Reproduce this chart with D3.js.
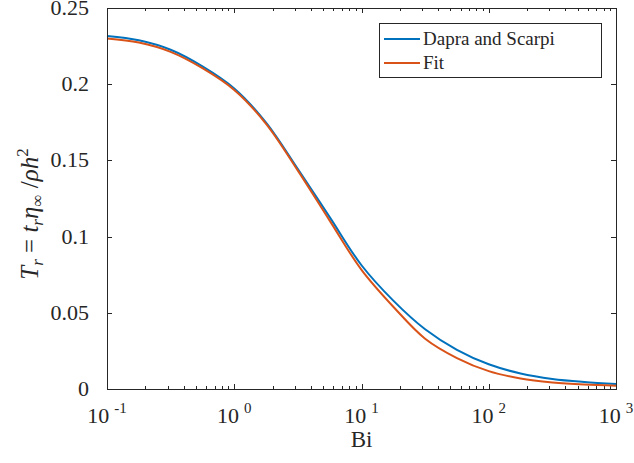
<!DOCTYPE html>
<html>
<head>
<meta charset="utf-8">
<script src="https://cdn.jsdelivr.net/npm/d3@7"></script>
<style>
  body { margin: 0; background: #fff; }
  svg text, svg tspan { font-family: "Liberation Serif", "Times New Roman", Tinos, serif; }
</style>
</head>
<body>
<script>
// values (Bi on log axis)
const bi = [0.1, 0.1778, 0.3162, 0.5623, 1, 1.778, 3.162, 5.623, 10, 17.78, 31.62, 56.23, 100, 177.8, 316.2, 562.3, 1000];
const dapra = [0.2316, 0.2288, 0.2226, 0.2117, 0.1972, 0.1748, 0.1443, 0.1128, 0.0812, 0.0580, 0.0392, 0.0257, 0.0162, 0.0102, 0.0066, 0.0046, 0.0033];
const fit = [0.2300, 0.2273, 0.2212, 0.2105, 0.1962, 0.1740, 0.1433, 0.1105, 0.0782, 0.0540, 0.0330, 0.0203, 0.0117, 0.0069, 0.0043, 0.0029, 0.0022];
const seriesNames = ["Dapra and Scarpi", "Fit"];
const yTicks = [0, 0.05, 0.1, 0.15, 0.2, 0.25];
const xTicks = [0.1, 1, 10, 100, 1000];

const width = 634,
    height = 463,
    colors = ["#0072BD", "#D95319"],
    margin = {top: 8, right: 18, bottom: 74, left: 107};

const svg = d3.select("body").append("svg")
    .attr("width", width)
    .attr("height", height);

// every text gets the serif font set on itself
function addText(parent, size) {
    return parent.append("text")
        .style("font-family", "'Liberation Serif', 'Times New Roman', Tinos, serif")
        .style("font-size", size + "px")
        .attr("fill", "#262626");
}

const x = d3.scaleLog()
    .domain([0.1, 1000])
    .range([margin.left, width - margin.right]);

const y = d3.scaleLinear()
    .domain([0, 0.25])
    .range([height - margin.bottom, margin.top]);

const x0 = x.range()[0], x1 = x.range()[1];
const y0 = y.range()[0], y1 = y.range()[1];

// minor ticks for the log axis
let minor = [];
for (let e = -1; e < 3; e++) {
    for (let k = 2; k <= 9; k++) minor.push(k * Math.pow(10, e));
}

const tickG = svg.append("g").attr("stroke", "#262626").attr("stroke-width", 1);

// x ticks, bottom and top, pointing in
xTicks.forEach(function(t) {
    let px = Math.round(x(t)) + 0.5;
    tickG.append("line").attr("x1", px).attr("x2", px).attr("y1", y0).attr("y2", y0 - 5);
    tickG.append("line").attr("x1", px).attr("x2", px).attr("y1", y1).attr("y2", y1 + 5);
});
minor.forEach(function(t) {
    let px = Math.round(x(t)) + 0.5;
    tickG.append("line").attr("x1", px).attr("x2", px).attr("y1", y0).attr("y2", y0 - 3);
    tickG.append("line").attr("x1", px).attr("x2", px).attr("y1", y1).attr("y2", y1 + 3);
});

// y ticks, left and right
yTicks.forEach(function(t) {
    let py = Math.round(y(t)) + 0.5;
    tickG.append("line").attr("x1", x0).attr("x2", x0 + 5).attr("y1", py).attr("y2", py);
    tickG.append("line").attr("x1", x1).attr("x2", x1 - 5).attr("y1", py).attr("y2", py);
});

// curves
const line = d3.line()
    .x(function(d) { return x(d[0]); })
    .y(function(d) { return y(d[1]); })
    .curve(d3.curveCatmullRom.alpha(0.5));

[dapra, fit].forEach(function(vals, i) {
    svg.append("path")
        .datum(bi.map(function(b, j) { return [b, vals[j]]; }))
        .attr("fill", "none")
        .attr("stroke", colors[i])
        .attr("stroke-width", 2)
        .attr("d", line);
});

// box
svg.append("rect")
    .attr("x", x0 + 0.5).attr("y", y1 + 0.5)
    .attr("width", x1 - x0).attr("height", y0 - y1)
    .attr("fill", "none")
    .attr("stroke", "#262626");

// y tick labels
yTicks.forEach(function(t) {
    addText(svg, 22)
        .attr("x", x0 - 18)
        .attr("y", y(t) + 7)
        .attr("text-anchor", "end")
        .text(d3.format("")(t));
});

// x tick labels 10^n
xTicks.forEach(function(t) {
    let e = Math.round(Math.log10(t));
    let txt = addText(svg, 22)
        .attr("x", x(t))
        .attr("y", y0 + 34)
        .attr("text-anchor", "middle");
    txt.append("tspan").text("10");
    txt.append("tspan").attr("dx", 5).attr("dy", -10).style("font-size", "15px").text(e);
});

// axis titles
addText(svg, 23)
    .attr("x", x(10))
    .attr("y", 447)
    .attr("text-anchor", "middle")
    .text("Bi");

const yl = addText(svg, 25)
    .attr("transform", "translate(38,214) rotate(-90)")
    .attr("text-anchor", "middle");
yl.append("tspan").style("font-style", "italic").text("T");
yl.append("tspan").attr("dy", 5).style("font-style", "italic").style("font-size", "17px").text("r");
yl.append("tspan").attr("dy", -5).text(" = ");
yl.append("tspan").style("font-style", "italic").text("t");
yl.append("tspan").attr("dy", 5).style("font-style", "italic").style("font-size", "17px").text("r");
yl.append("tspan").attr("dy", -5).style("font-style", "italic").text("η");
yl.append("tspan").attr("dy", 5).style("font-size", "17px").text("∞");
yl.append("tspan").attr("dy", -5).text(" /");
yl.append("tspan").style("font-style", "italic").text("ρh");
yl.append("tspan").attr("dy", -10).style("font-size", "17px").text("2");

// legend
const lg = svg.append("g");
lg.append("rect")
    .attr("x", 379.5).attr("y", 23.5)
    .attr("width", 222).attr("height", 54)
    .attr("fill", "#fff")
    .attr("stroke", "#262626");
seriesNames.forEach(function(name, i) {
    let ly = 39 + i * 24;
    lg.append("line")
        .attr("x1", 384).attr("x2", 420)
        .attr("y1", ly).attr("y2", ly)
        .attr("stroke", colors[i])
        .attr("stroke-width", 2);
    addText(lg, 19)
        .attr("x", 423)
        .attr("y", ly + 6)
        .text(name);
});
</script>
</body>
</html>
